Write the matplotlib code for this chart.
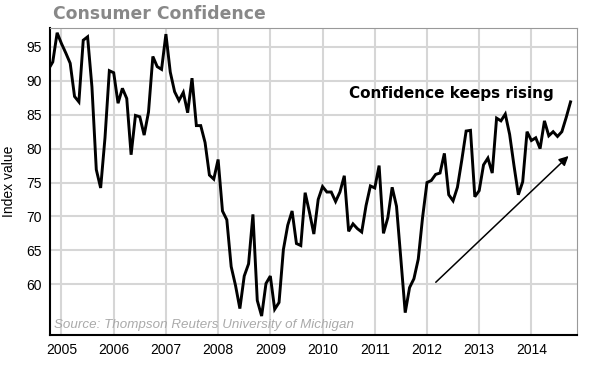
import numpy as np
import matplotlib.pyplot as plt

# monthly index values, Oct 2004 .. Oct 2014
start_year = 2004
start_month = 10
index_values = [
    91.7, 92.8, 97.1,
    95.5, 94.1, 92.6, 87.7, 86.9, 96.0, 96.5, 89.1, 76.9, 74.2, 81.6, 91.5,
    91.2, 86.7, 88.9, 87.4, 79.1, 84.9, 84.7, 82.0, 85.4, 93.6, 92.1, 91.7,
    96.9, 91.3, 88.4, 87.1, 88.3, 85.3, 90.4, 83.4, 83.4, 80.9, 76.1, 75.5,
    78.4, 70.8, 69.5, 62.6, 59.8, 56.4, 61.2, 63.0, 70.3, 57.6, 55.3, 60.1,
    61.2, 56.3, 57.3, 65.1, 68.7, 70.8, 66.0, 65.7, 73.5, 70.6, 67.4, 72.5,
    74.4, 73.6, 73.6, 72.2, 73.6, 76.0, 67.8, 68.9, 68.2, 67.7, 71.6, 74.5,
    74.2, 77.5, 67.5, 69.8, 74.3, 71.5, 63.7, 55.8, 59.5, 60.8, 63.7, 69.9,
    75.0, 75.3, 76.2, 76.4, 79.3, 73.2, 72.3, 74.3, 78.3, 82.6, 82.7, 72.9,
    73.8, 77.6, 78.6, 76.4, 84.5, 84.1, 85.1, 82.1, 77.5, 73.2, 75.1, 82.5,
    81.2, 81.6, 80.0, 84.1, 81.9, 82.5, 81.8, 82.5, 84.6, 86.9,
]
year_ticks = list(range(2005, 2015))
value_ticks = [60, 65, 70, 75, 80, 85, 90, 95]

months = np.arange(len(index_values))
x_dates = start_year + (start_month - 1 + months) / 12.0

fig = plt.figure(figsize=(5.91, 3.76), dpi=100)
ax = fig.add_axes([0.0846, 0.109, 0.8914, 0.8165])

ax.plot(x_dates, index_values, color='black', lw=2.1, solid_joinstyle='miter', zorder=3)

ax.set_xlim(2004.78, 2014.87)
ax.set_ylim(52.5, 97.8)
ax.set_xticks(year_ticks)
ax.set_yticks(value_ticks)
ax.tick_params(length=0, labelsize=10, pad=6)
for lab in ax.get_xticklabels() + ax.get_yticklabels():
    lab.set_fontfamily('Liberation Sans')
ax.grid(True, color='#d6d6d6', lw=1.5)
ax.set_axisbelow(True)

ax.spines['left'].set_color('black')
ax.spines['bottom'].set_color('black')
ax.spines['left'].set_linewidth(1.5)
ax.spines['bottom'].set_linewidth(1.5)
ax.spines['top'].set_color('#999999')
ax.spines['right'].set_color('#999999')

ax.set_ylabel('Index value', fontsize=10, family='Liberation Sans', labelpad=7)

fig.text(0.089, 0.963, 'Consumer Confidence', fontsize=12.4, fontweight='bold',
         color='#888888', va='center', ha='left', family='DejaVu Sans')

ax.text(2012.46, 88.1, 'Confidence keeps rising', fontsize=11, fontweight='bold',
        ha='center', va='center', family='DejaVu Sans')
ax.annotate('', xy=(2014.75, 79.2), xytext=(2012.13, 60.0),
            arrowprops=dict(arrowstyle='-|>', color='black', lw=1.1, mutation_scale=14))

ax.text(2004.85, 53.5, 'Source: Thompson Reuters University of Michigan', fontsize=9.6,
        style='italic', color='#aaaaaa', family='Liberation Sans', ha='left', va='baseline')

fig.savefig('out.png', dpi=100)
